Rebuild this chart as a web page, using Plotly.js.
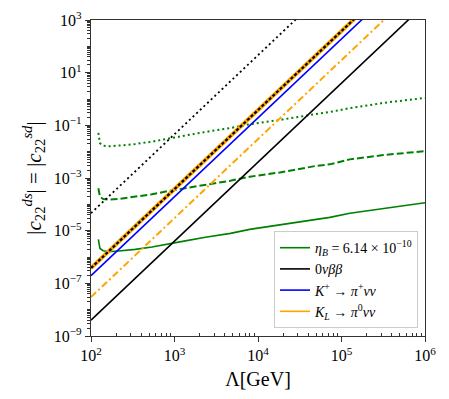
<!DOCTYPE html>
<html><head><meta charset="utf-8">
<script src="https://cdn.plot.ly/plotly-3.0.1.min.js"></script>
<style>html,body{margin:0;padding:0;background:#fff}#chart{width:449px;height:399px}</style>
</head><body><div id="chart"></div>
<script>
// Straight bounds (Lambda in GeV)
const lam = [1e2, 1e3, 1e4, 1e5, 1e6];
const bound0nbb = [4e-9, 4e-6, 4e-3, 4, 4e3];
const bound0nbbDot = [4.6e-5, 4.6e-2, 46, 4.6e4, 4.6e7];
const boundKplus = [1.95e-7, 1.95e-4, 0.19, 190, 1.9e5];
const boundKL = [3.8e-7, 3.8e-4, 0.38, 380, 3.8e5];
const boundKLdd = [3e-8, 3e-5, 3e-2, 30, 3e4];

// Baryon asymmetry curves
const lamEta = [122.5, 128, 140, 161, 214, 339, 537, 891, 1349, 2344, 4677, 7943, 18197, 50119, 72444, 125893, 316228, 1e6];
const etaSolid = [4.7e-6, 2.1e-6, 1.74e-6, 1.58e-6, 1.7e-6, 1.95e-6, 2.4e-6, 3.3e-6, 4.1e-6, 5.6e-6, 7.9e-6, 1.12e-5, 1.62e-5, 2.7e-5, 3.2e-5, 4.6e-5, 7.1e-5, 1.15e-4];
const etaDashed = [4.1e-4, 1.95e-4, 1.6e-4, 1.5e-4, 1.6e-4, 1.95e-4, 2.4e-4, 3.3e-4, 4.1e-4, 5.6e-4, 7.9e-4, 1.12e-3, 1.62e-3, 2.9e-3, 3.3e-3, 5.1e-3, 7.4e-3, 1.05e-2];
const etaDotted = [5.2e-2, 2.1e-2, 1.7e-2, 1.6e-2, 1.7e-2, 1.95e-2, 2.4e-2, 3.3e-2, 4.1e-2, 5.6e-2, 7.9e-2, 0.11, 0.16, 0.27, 0.32, 0.45, 0.71, 1.1];

const labels = ["<i>η</i><sub><i>B</i></sub> = 6.14 × 10<sup>−10</sup>", "0<i>νββ</i>", "<i>K</i><sup>+</sup> → <i>π</i><sup>+</sup><i>νν</i>", "<i>K</i><sub><i>L</i></sub> → <i>π</i><sup>0</sup><i>νν</i>"];

// Tick labels
const xTickExp = [2, 3, 4, 5, 6];
const yTickExp = [-9, -7, -5, -3, -1, 1, 3];

function majors(exps) { return exps.map(e => Math.pow(10, e)); }
function texts(exps) { return exps.map(e => '10<sup>' + (e < 0 ? '−' + (-e) : e) + '</sup>'); }
function minors(lo, hi) { const v = []; for (let e = lo; e < hi; e++) for (let m = 2; m <= 9; m++) v.push(m * Math.pow(10, e)); return v; }

const G = '#008000', O = '#FFA500', B = '#0000FF', K = '#000000';
const traces = [
  {x: lamEta, y: etaSolid, mode: 'lines', line: {color: G, width: 1.6}, showlegend: false},
  {x: lamEta, y: etaDashed, mode: 'lines', line: {color: G, width: 2, dash: '7px,3px'}, showlegend: false},
  {x: lamEta, y: etaDotted, mode: 'lines', line: {color: G, width: 2, dash: '2px,3px'}, showlegend: false},
  {x: lam, y: bound0nbb, mode: 'lines', line: {color: K, width: 1.6}, showlegend: false},
  {x: lam, y: bound0nbbDot, mode: 'lines', line: {color: K, width: 1.8, dash: '2px,3px'}, showlegend: false},
  {x: lam, y: boundKplus, mode: 'lines', line: {color: B, width: 1.6}, showlegend: false},
  {x: lam, y: boundKL, mode: 'lines', line: {color: O, width: 4}, showlegend: false},
  {x: lam, y: boundKL, mode: 'lines', line: {color: K, width: 2.2, dash: '3px,2px'}, showlegend: false},
  {x: lam, y: boundKLdd, mode: 'lines', line: {color: O, width: 2, dash: '7px,3px,2px,3px'}, showlegend: false},
  // legend entries
  {x: [null], y: [null], mode: 'lines', line: {color: G, width: 1.6}, name: labels[0]},
  {x: [null], y: [null], mode: 'lines', line: {color: K, width: 1.6}, name: labels[1]},
  {x: [null], y: [null], mode: 'lines', line: {color: B, width: 1.6}, name: labels[2]},
  {x: [null], y: [null], mode: 'lines', line: {color: O, width: 1.6}, name: labels[3]}
];

const font = {family: 'Liberation Serif, Times New Roman, serif', color: '#000'};
const axisCommon = {type: 'log', exponentformat: 'power', showgrid: false, zeroline: false,
  showline: true, linecolor: '#333', linewidth: 1.2, mirror: true,
  ticks: 'outside', ticklen: 5, tickcolor: '#333', tickmode: 'array',
  tickfont: {family: font.family, size: 16, color: '#000'}};
const layout = {
  width: 449, height: 399,
  margin: {l: 91, r: 24, t: 20, b: 63},
  paper_bgcolor: '#fff', plot_bgcolor: '#fff',
  font: font,
  showlegend: true,
  legend: {x: 0.979, y: 0.025, xanchor: 'right', yanchor: 'bottom', bgcolor: '#fff', bordercolor: '#cccccc', borderwidth: 1,
           itemwidth: 30, font: {family: font.family, size: 14, color: '#000'}, tracegroupgap: 2},
  xaxis: Object.assign({}, axisCommon, {range: [2, 6], tickvals: majors(xTickExp), ticktext: texts(xTickExp),
          minor: {ticks: 'inside', ticklen: 3, tickcolor: '#333', showgrid: false, tickmode: 'array', tickvals: minors(2, 6)},
          title: {text: 'Λ[GeV]', font: {family: font.family, size: 20, color: '#000'}, standoff: 8}}),
  yaxis: Object.assign({}, axisCommon, {range: [-9, 3], tickvals: majors(yTickExp), ticktext: texts(yTickExp),
          minor: {ticks: 'outside', ticklen: 3, tickcolor: '#333', showgrid: false, tickmode: 'array', tickvals: minors(-9, 3).concat(majors([-8, -6, -4, -2, 0, 2]))},
          title: {text: '|<i>c</i><sub>22</sub><sup><i>ds</i></sup>| = |<i>c</i><sub>22</sub><sup><i>sd</i></sup>|', font: {family: font.family, size: 21, color: '#000'}, standoff: 6}})
};
Plotly.newPlot('chart', traces, layout, {displayModeBar: false, staticPlot: true});
</script></body></html>
